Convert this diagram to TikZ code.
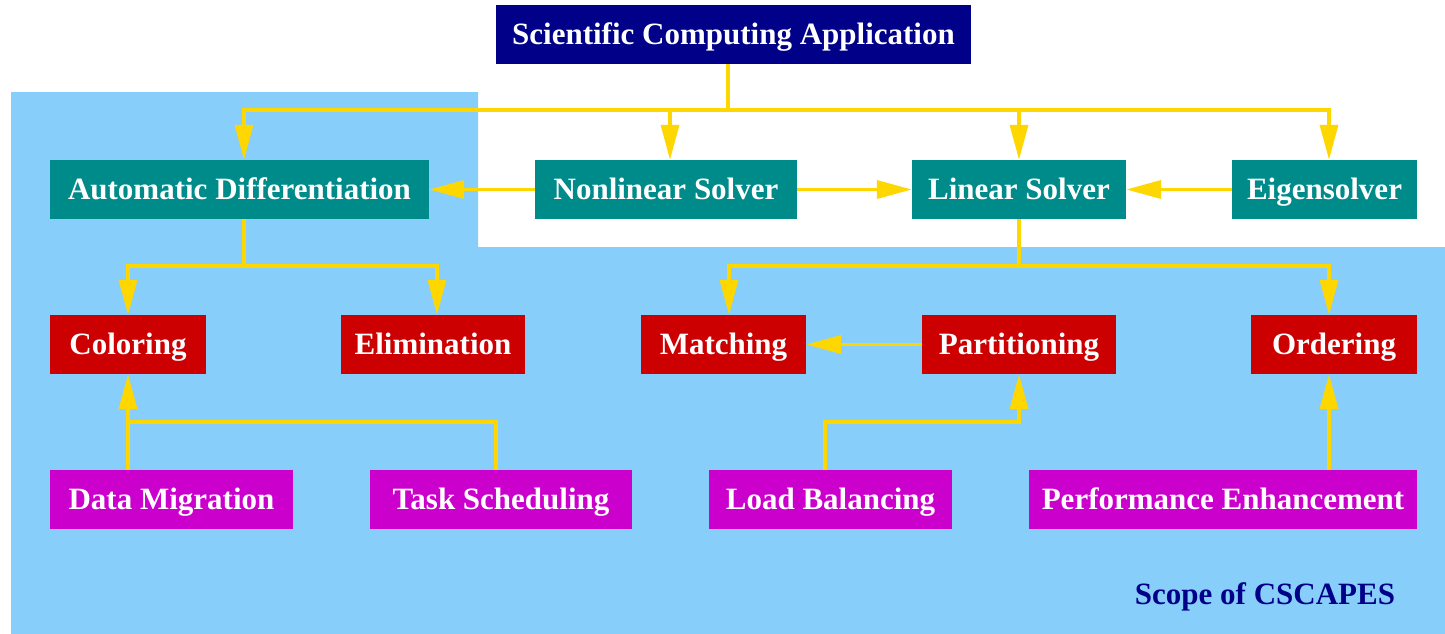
\documentclass[tikz,border=0pt]{standalone}
\usepackage{fontspec}
\setmainfont{Liberation Serif}
\usetikzlibrary{arrows.meta}
\definecolor{navyc}{HTML}{000088}
\definecolor{tealc}{HTML}{008B8B}
\definecolor{redc}{HTML}{CC0000}
\definecolor{magc}{HTML}{CC00CC}
\definecolor{skyc}{HTML}{87CEFA}
\definecolor{goldc}{HTML}{FFD700}
\tikzset{
  box/.style={rectangle, inner sep=0pt, minimum height=59pt, text=white,
    text height=22pt, text depth=2pt,
    font=\fontsize{31}{36}\selectfont\bfseries},
  topbox/.style={box, fill=navyc},
  solverbox/.style={box, fill=tealc},
  algbox/.style={box, fill=redc},
  appbox/.style={box, fill=magc},
  wire/.style={draw=goldc, line width=3.5pt, line join=miter},
  arr/.style={wire, -{Triangle[length=35pt,width=18pt]}},
  scopetext/.style={text=navyc, font=\fontsize{31}{36}\selectfont\bfseries, inner sep=0pt}
}
\begin{document}
\begin{tikzpicture}[x=1pt,y=-1pt]
\useasboundingbox (0,0) rectangle (1445,634);
\fill[white] (0,0) rectangle (1445,634);
\fill[skyc] (11,92) -- (478,92) -- (478,247) -- (1445,247) -- (1445,634) -- (11,634) -- cycle;

% nodes
\node[topbox, minimum width=475pt] (sca) at (733.5,34.5) {Scientific Computing Application};
\node[solverbox, minimum width=379pt] (ad) at (239.5,189.5) {Automatic Differentiation};
\node[solverbox, minimum width=262pt] (ns) at (666,189.5) {Nonlinear Solver};
\node[solverbox, minimum width=214pt] (ls) at (1019,189.5) {Linear Solver};
\node[solverbox, minimum width=185pt] (eig) at (1324.5,189.5) {Eigensolver};
\node[algbox, minimum width=156pt] (col) at (128,344.5) {Coloring};
\node[algbox, minimum width=184pt] (elim) at (433,344.5) {Elimination};
\node[algbox, minimum width=165pt] (match) at (723.5,344.5) {Matching};
\node[algbox, minimum width=194pt] (part) at (1019,344.5) {Partitioning};
\node[algbox, minimum width=166pt] (ord) at (1334,344.5) {Ordering};
\node[appbox, minimum width=243pt] (dm) at (171.5,499.5) {Data Migration};
\node[appbox, minimum width=262pt] (ts) at (501,499.5) {Task Scheduling};
\node[appbox, minimum width=243pt] (lb) at (830.5,499.5) {Load Balancing};
\node[appbox, minimum width=388pt] (pe) at (1223,499.5) {Performance Enhancement};
\node[scopetext] (scope) at (1265,597) {Scope of CSCAPES};

% junction coordinates
\coordinate (j1) at (728,110);
\coordinate (b1l) at (244,110);
\coordinate (b1n) at (670,110);
\coordinate (b1s) at (1019,110);
\coordinate (b1r) at (1329,110);
\coordinate (j2) at (244,266);
\coordinate (c2l) at (128,266);
\coordinate (c2r) at (437,266);
\coordinate (j3) at (1019,266);
\coordinate (c3l) at (729,266);
\coordinate (c3r) at (1329,266);
\coordinate (d1) at (128,422);
\coordinate (d2) at (496,422);
\coordinate (e1) at (825,422);
\coordinate (e2) at (1019,422);
\coordinate (f1) at (1329,422);

% top bus
\draw[wire] (sca.south -| j1) -- (j1);
\draw[arr] (j1) -- (b1l) -- (ad.north -| b1l);
\draw[arr] (j1) -- (b1r) -- (eig.north -| b1r);
\draw[arr] (b1n) -- (ns.north -| b1n);
\draw[arr] (b1s) -- (ls.north -| b1s);

% horizontal solver arrows
\draw[arr] (ns.west) -- (ad.east);
\draw[arr] (ns.east) -- (ls.west);
\draw[arr] (eig.west) -- (ls.east);

% AD bus
\draw[wire] (ad.south -| j2) -- (j2);
\draw[arr] (j2) -- (c2l) -- (col.north -| c2l);
\draw[arr] (j2) -- (c2r) -- (elim.north -| c2r);

% LS bus
\draw[wire] (ls.south -| j3) -- (j3);
\draw[arr] (j3) -- (c3l) -- (match.north -| c3l);
\draw[arr] (j3) -- (c3r) -- (ord.north -| c3r);

\draw[arr] (part.west) -- (match.east);

% bottom
\draw[wire] (ts.north -| d2) -- (d2) -- (d1);
\draw[arr] (dm.north -| d1) -- (col.south -| d1);
\draw[arr] (lb.north -| e1) -- (e1) -- (e2) -- (part.south -| e2);
\draw[arr] (pe.north -| f1) -- (ord.south -| f1);
\end{tikzpicture}
\end{document}
